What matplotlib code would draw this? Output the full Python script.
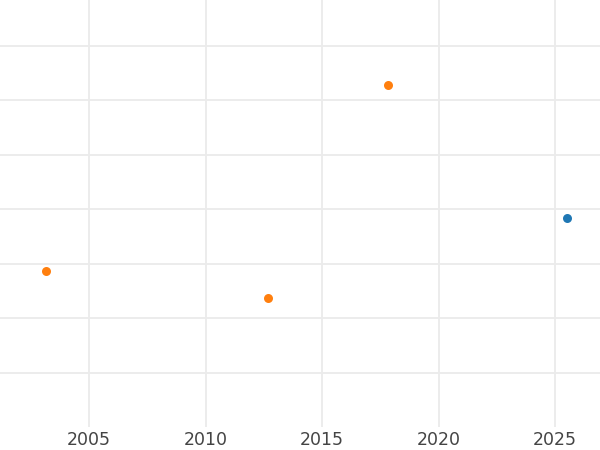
import matplotlib
matplotlib.use("Agg")
import matplotlib.pyplot as plt

# two series (y axis has no labels)
orange_years = [2003.15, 2012.68, 2017.83]
orange_values = [2.86, 2.36, 6.28]
blue_years = [2025.52]
blue_values = [3.83]

x_ticks = [2005, 2010, 2015, 2020, 2025]
y_ticks = [1, 2, 3, 4, 5, 6, 7]

fig = plt.figure(figsize=(6, 4.5), dpi=100)
ax = fig.add_axes([0, 1 - 427 / 450, 1, 427 / 450])

ax.scatter(orange_years, orange_values, s=42, color="#ff7f0e", zorder=3, linewidths=0)
ax.scatter(blue_years, blue_values, s=42, color="#1f77b4", zorder=3, linewidths=0)

ax.set_xlim(2001.18, 2026.93)
ax.set_ylim(0, 7.84)
ax.set_xticks(x_ticks)
ax.set_yticks(y_ticks)
ax.set_yticklabels([])
ax.tick_params(axis="both", length=0, labelsize=12.5, labelcolor="#444444", pad=3)
ax.grid(True, color="#ebebeb", linewidth=1.3)
ax.set_axisbelow(True)
for spine in ax.spines.values():
    spine.set_visible(False)

fig.savefig("out.png", dpi=100)
